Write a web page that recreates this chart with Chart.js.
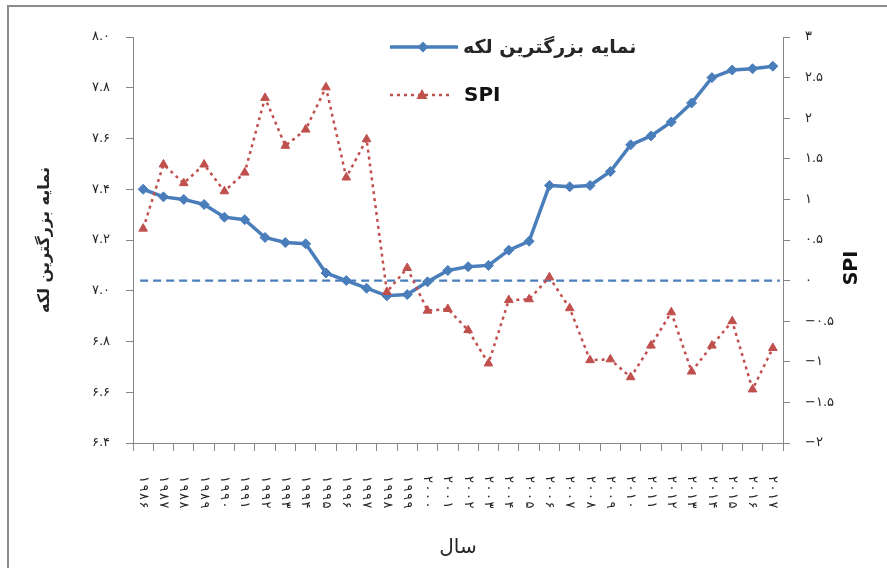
<!DOCTYPE html>
<html>
<head>
<meta charset="utf-8">
<script src="https://cdn.jsdelivr.net/npm/chart.js@4.4.1/dist/chart.umd.min.js"></script>
<style>
  html, body { margin: 0; padding: 0; background: #fff; }
  canvas { display: block; }
</style>
</head>
<body>
<canvas id="chart" width="887" height="568"></canvas>
<script>
// Category axis: years, shown with Persian digits
const years = [1986, 1987, 1988, 1989, 1990, 1991, 1992, 1993, 1994, 1995, 1996, 1997, 1998, 1999, 2000, 2001,
  2002, 2003, 2004, 2005, 2006, 2007, 2008, 2009, 2010, 2011, 2012, 2013, 2014, 2015, 2016, 2017]

// Largest patch index (left axis)
const patchIndex = [7.40, 7.37, 7.36, 7.34, 7.29, 7.28, 7.21, 7.19, 7.185, 7.07, 7.04, 7.01, 6.98, 6.985, 7.035, 7.08,
  7.095, 7.10, 7.16, 7.195, 7.415, 7.41, 7.415, 7.47, 7.575, 7.61, 7.665, 7.74, 7.84, 7.87, 7.875, 7.885]

// SPI (right axis)
const spi = [0.64, 1.43, 1.20, 1.43, 1.10, 1.33, 2.25, 1.66, 1.86, 2.38, 1.27, 1.74, -0.14, 0.155, -0.37, -0.35,
  -0.61, -1.02, -0.24, -0.23, 0.04, -0.34, -0.98, -0.97, -1.19, -0.80, -0.39, -1.12, -0.80, -0.50, -1.34, -0.83]

// dashed reference line on the SPI axis
const spiBaseline = 0

const leftTickLabels = ["۶.۴", "۶.۶", "۶.۸", "۷.۰", "۷.۲", "۷.۴", "۷.۶", "۷.۸", "۸.۰"]
const rightTickLabels = ["−۲", "−۱.۵", "−۱", "−۰.۵", "۰", "۰.۵", "۱", "۱.۵", "۲", "۲.۵", "۳"]

const patchLabel = "نمایه بزرگترین لکه"
const spiLabel = "SPI"
const xTitle = "سال"

const BLUE = "#4A7EBB"
const RED = "#C0504D"
const GREY = "#868686"
const TEXT = "#262626"
const FONT = "'DejaVu Sans', sans-serif"

const faDigits = (s) => String(s).replace(/[0-9]/g, (d) => "۰۱۲۳۴۵۶۷۸۹"[d])

// grey frame around the whole figure (right/bottom edges fall outside the picture)
const framePlugin = {
  id: "frame",
  beforeDraw(chart) {
    const { ctx } = chart
    ctx.save()
    ctx.fillStyle = "#fff"
    ctx.fillRect(0, 0, chart.width, chart.height)
    ctx.strokeStyle = "#8c8c8c"
    ctx.lineWidth = 2
    ctx.strokeRect(8, 6, chart.width + 20, chart.height + 20)
    ctx.restore()
  },
}

const baselinePlugin = {
  id: "baseline",
  beforeDatasetsDraw(chart) {
    const { ctx, scales } = chart
    const y = scales.y1.getPixelForValue(spiBaseline)
    const x0 = scales.x.getPixelForValue(0) - 3
    const x1 = scales.x.getPixelForValue(years.length - 1) + 7
    ctx.save()
    ctx.strokeStyle = BLUE
    ctx.lineWidth = 2.2
    ctx.setLineDash([8, 5])
    ctx.beginPath()
    ctx.moveTo(x0, y)
    ctx.lineTo(x1, y)
    ctx.stroke()
    ctx.restore()
  },
}

// year labels run top-to-bottom (rotated clockwise), which Chart.js ticks can't do;
// drawn one digit at a time to get the looser spacing of the original
const yearLabelsPlugin = {
  id: "yearLabels",
  afterDraw(chart) {
    const { ctx, scales } = chart
    const top = scales.x.top + 33
    ctx.save()
    ctx.fillStyle = TEXT
    ctx.font = `13px ${FONT}`
    ctx.textAlign = "left"
    ctx.textBaseline = "middle"
    years.forEach((yr, i) => {
      ctx.save()
      ctx.translate(scales.x.getPixelForValue(i), top)
      ctx.rotate(Math.PI / 2)
      let x = 0
      for (const ch of faDigits(yr)) {
        ctx.fillText(ch, x, 0)
        x += ctx.measureText(ch).width + 1.5
      }
      ctx.restore()
    })
    ctx.restore()
  },
}

// SPI axis title reads bottom-to-top in the original
const spiTitlePlugin = {
  id: "spiTitle",
  afterDraw(chart) {
    const { ctx, chartArea } = chart
    ctx.save()
    ctx.translate(chartArea.right + 69, (chartArea.top + chartArea.bottom) / 2 + 28)
    ctx.rotate(-Math.PI / 2)
    ctx.fillStyle = "#111"
    ctx.font = `bold 19px ${FONT}`
    ctx.textAlign = "center"
    ctx.textBaseline = "middle"
    ctx.fillText(spiLabel, 0, 0)
    ctx.restore()
  },
}

const legendPlugin = {
  id: "insideLegend",
  afterDraw(chart) {
    const { ctx, chartArea } = chart
    const x0 = chartArea.left + 257
    ctx.save()
    // patch index entry
    let y = 47
    ctx.strokeStyle = BLUE
    ctx.lineWidth = 3.5
    ctx.beginPath()
    ctx.moveTo(x0, y)
    ctx.lineTo(x0 + 68, y)
    ctx.stroke()
    ctx.fillStyle = BLUE
    ctx.beginPath()
    ctx.moveTo(x0 + 33, y - 5.5)
    ctx.lineTo(x0 + 38.5, y)
    ctx.lineTo(x0 + 33, y + 5.5)
    ctx.lineTo(x0 + 27.5, y)
    ctx.closePath()
    ctx.fill()
    ctx.fillStyle = TEXT
    ctx.font = `bold 19px ${FONT}`
    ctx.textAlign = "left"
    ctx.textBaseline = "middle"
    ctx.fillText(patchLabel, x0 + 73, y + 1)
    // SPI entry
    y = 95
    ctx.strokeStyle = RED
    ctx.lineWidth = 2.5
    ctx.setLineDash([3, 4])
    ctx.beginPath()
    ctx.moveTo(x0, y)
    ctx.lineTo(x0 + 63, y)
    ctx.stroke()
    ctx.setLineDash([])
    ctx.fillStyle = RED
    ctx.beginPath()
    ctx.moveTo(x0 + 32, y - 6)
    ctx.lineTo(x0 + 37.5, y + 4)
    ctx.lineTo(x0 + 26.5, y + 4)
    ctx.closePath()
    ctx.fill()
    ctx.fillStyle = "#111"
    ctx.font = `bold 20px ${FONT}`
    ctx.fillText(spiLabel, x0 + 74, y + 1)
    ctx.restore()
  },
}

new Chart(document.getElementById("chart"), {
  type: "line",
  data: {
    labels: years.map(faDigits),
    datasets: [
      {
        label: patchLabel,
        data: patchIndex,
        yAxisID: "y",
        borderColor: BLUE,
        backgroundColor: BLUE,
        borderWidth: 3.5,
        pointStyle: "rectRot",
        pointRadius: 5,
        pointBorderWidth: 1,
        tension: 0,
        order: 2,
      },
      {
        label: spiLabel,
        data: spi,
        yAxisID: "y1",
        borderColor: RED,
        backgroundColor: RED,
        borderWidth: 2.5,
        borderDash: [3, 4],
        pointStyle: "triangle",
        pointRadius: 5,
        pointBorderWidth: 1,
        tension: 0,
        order: 1,
      },
    ],
  },
  options: {
    responsive: false,
    animation: false,
    layout: { padding: { top: 37, left: 0, right: 0, bottom: 0 } },
    plugins: { legend: { display: false }, tooltip: { enabled: false } },
    scales: {
      x: {
        offset: true,
        grid: { offset: true, drawOnChartArea: false, tickLength: 8, color: GREY },
        border: { color: GREY },
        ticks: { display: false },
        title: { display: true, text: xTitle, color: TEXT, font: { family: FONT, size: 20 }, padding: { top: 0, bottom: 8 } },
        afterFit: (s) => { s.height = 125 },
      },
      y: {
        position: "left",
        min: 6.4,
        max: 8.0,
        ticks: { stepSize: 0.2, callback: (v, i) => leftTickLabels[i], padding: 16, color: TEXT, font: { family: FONT, size: 13 } },
        grid: { drawOnChartArea: false, tickLength: 7, color: GREY },
        border: { color: GREY },
        title: { display: true, text: patchLabel, color: TEXT, font: { family: FONT, size: 16, weight: "bold" }, padding: { top: 35, bottom: 0 } },
        afterFit: (s) => { s.width = 133 },
      },
      y1: {
        position: "right",
        min: -2,
        max: 3,
        ticks: { stepSize: 0.5, callback: (v, i) => rightTickLabels[i], padding: 15, color: TEXT, font: { family: FONT, size: 13 } },
        grid: { drawOnChartArea: false, tickLength: 7, color: GREY },
        border: { color: GREY },
        afterFit: (s) => { s.width = 104 },
      },
    },
  },
  plugins: [framePlugin, baselinePlugin, yearLabelsPlugin, spiTitlePlugin, legendPlugin],
})
</script>
</body>
</html>
